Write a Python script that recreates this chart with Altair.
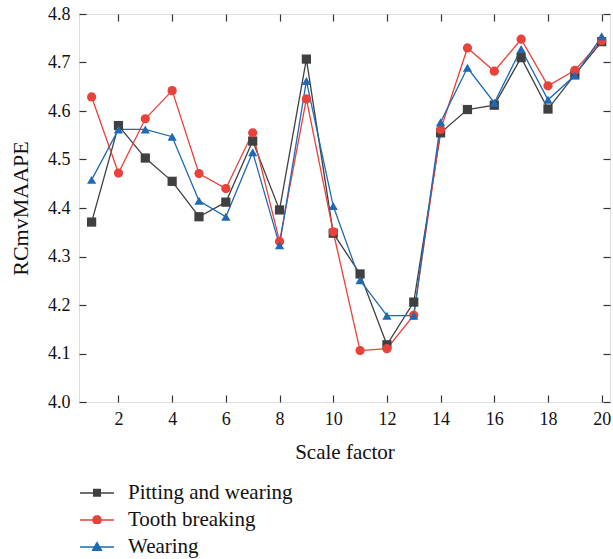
import altair as alt
import pandas as pd
import math

scale_factor = list(range(1, 21))
series_names = ["Pitting and wearing", "Tooth breaking", "Wearing"]
pitting = [4.371, 4.570, 4.503, 4.455, 4.382, 4.412, 4.538, 4.396, 4.707, 4.348,
           4.264, 4.118, 4.206, 4.555, 4.603, 4.612, 4.710, 4.604, 4.675, 4.743]
tooth = [4.629, 4.472, 4.584, 4.642, 4.471, 4.440, 4.555, 4.331, 4.625, 4.351,
         4.106, 4.110, 4.179, 4.562, 4.730, 4.682, 4.748, 4.652, 4.684, 4.745]
wearing = [4.458, 4.562, 4.562, 4.547, 4.415, 4.382, 4.515, 4.323, 4.662, 4.404,
           4.251, 4.178, 4.178, 4.577, 4.689, 4.617, 4.728, 4.623, 4.673, 4.754]
colors = ["#404040", "#e8423a", "#1f6ab4"]
y_ticks = [4.0, 4.1, 4.2, 4.3, 4.4, 4.5, 4.6, 4.7, 4.8]
x_ticks = [2, 4, 6, 8, 10, 12, 14, 16, 18, 20]

rows = []
for name, vals in zip(series_names, [pitting, tooth, wearing]):
    for xv, yv in zip(scale_factor, vals):
        rows.append({"x": xv, "y": yv, "series": name})
df = pd.DataFrame(rows)

FONT = "Liberation Serif"
xscale = alt.Scale(domain=[0.53, 20.31], nice=False, zero=False)
yscale = alt.Scale(domain=[4.0, 4.8], nice=False, zero=False)
cscale = alt.Scale(domain=series_names, range=colors)

tick_axis = dict(domain=False, grid=False, tickSize=7, offset=-7,
                 tickColor="#333333", tickWidth=1.2,
                 labelFont=FONT, labelFontSize=18, labelColor="#111111")
title_axis = dict(titleFont=FONT, titleFontWeight="normal", titleColor="#111111")

x_bottom = alt.X("x:Q", scale=xscale,
                 axis=alt.Axis(values=x_ticks, title="Scale factor", labelPadding=8,
                               titlePadding=13, titleFontSize=21, **tick_axis, **title_axis))
y_left = alt.Y("y:Q", scale=yscale,
               axis=alt.Axis(values=y_ticks, format=".1f", title="RCmvMAAPE",
                             labelPadding=9, titlePadding=15, titleFontSize=22,
                             **tick_axis, **title_axis))

lines = alt.Chart(df).mark_line(strokeWidth=1.3).encode(
    x=x_bottom, y=y_left,
    color=alt.Color("series:N", scale=cscale, legend=None),
    detail="series:N",
)

points = alt.Chart(df).mark_point(filled=True, size=85, opacity=1).encode(
    x=alt.X("x:Q", scale=xscale,
            axis=alt.Axis(orient="top", values=x_ticks, labels=False, title=None, **tick_axis)),
    y=alt.Y("y:Q", scale=yscale,
            axis=alt.Axis(orient="right", values=y_ticks, labels=False, title=None, **tick_axis)),
    color=alt.Color("series:N", scale=cscale, legend=None),
    shape=alt.Shape("series:N",
                    scale=alt.Scale(domain=series_names,
                                    range=["square", "circle", "triangle-up"]),
                    legend=None),
)


# legend glyphs: a line with a solid marker drawn as stroked hatching (unit = half symbol width)
def hatch(halfwidth_fn, y0, y1, step=0.055):
    parts = ["M-1,0H1"]
    y = y0
    while y <= y1 + 1e-9:
        hw = halfwidth_fn(y)
        if hw > 0:
            parts.append("M%.3f,%.3fH%.3f" % (-hw, y, hw))
        y += step
    return "".join(parts)


glyphs = [
    hatch(lambda y: 0.235, -0.205, 0.205),
    hatch(lambda y: math.sqrt(max(0.0, 0.275 ** 2 - y * y)), -0.245, 0.245),
    hatch(lambda y: 0.33 * (y + 0.33) / 0.57, -0.30, 0.22),
]
legend_rows_y = [461, 488, 515]

legend_layers = []
for name, col, glyph, ly in zip(series_names, colors, glyphs, legend_rows_y):
    leg = alt.Legend(
        title=None, orient="none", legendX=0, legendY=ly,
        labelFont=FONT, labelFontSize=21, labelColor="#111111", labelLimit=500,
        symbolSize=1156, symbolStrokeWidth=1.4, symbolOpacity=1,
        symbolStrokeColor=col, symbolFillColor="transparent",
        labelOffset=13, rowPadding=0, padding=0, symbolOffset=0,
    )
    legend_layers.append(
        alt.Chart(df).transform_filter(alt.datum.series == name)
        .mark_point(opacity=0, filled=False).encode(
            x=alt.X("x:Q", scale=xscale, axis=None),
            y=alt.Y("y:Q", scale=yscale, axis=None),
            shape=alt.Shape("series:N",
                            scale=alt.Scale(domain=[name], range=[glyph]),
                            legend=leg),
        )
    )

chart = alt.layer(lines, points, *legend_layers).resolve_scale(
    shape="independent"
).resolve_axis(x="independent", y="independent").properties(
    width=531, height=388,
    autosize=alt.AutoSizeParams(type="none"),
    padding={"left": 79, "top": 14, "right": 3, "bottom": 157},
).configure_view(stroke="#333333", strokeWidth=1.5).configure_axis(
    labelFont=FONT, titleFont=FONT
).configure_legend(labelFont=FONT).configure(background="white")

chart.save("out.html", embed_options={"renderer": "svg", "actions": False})
